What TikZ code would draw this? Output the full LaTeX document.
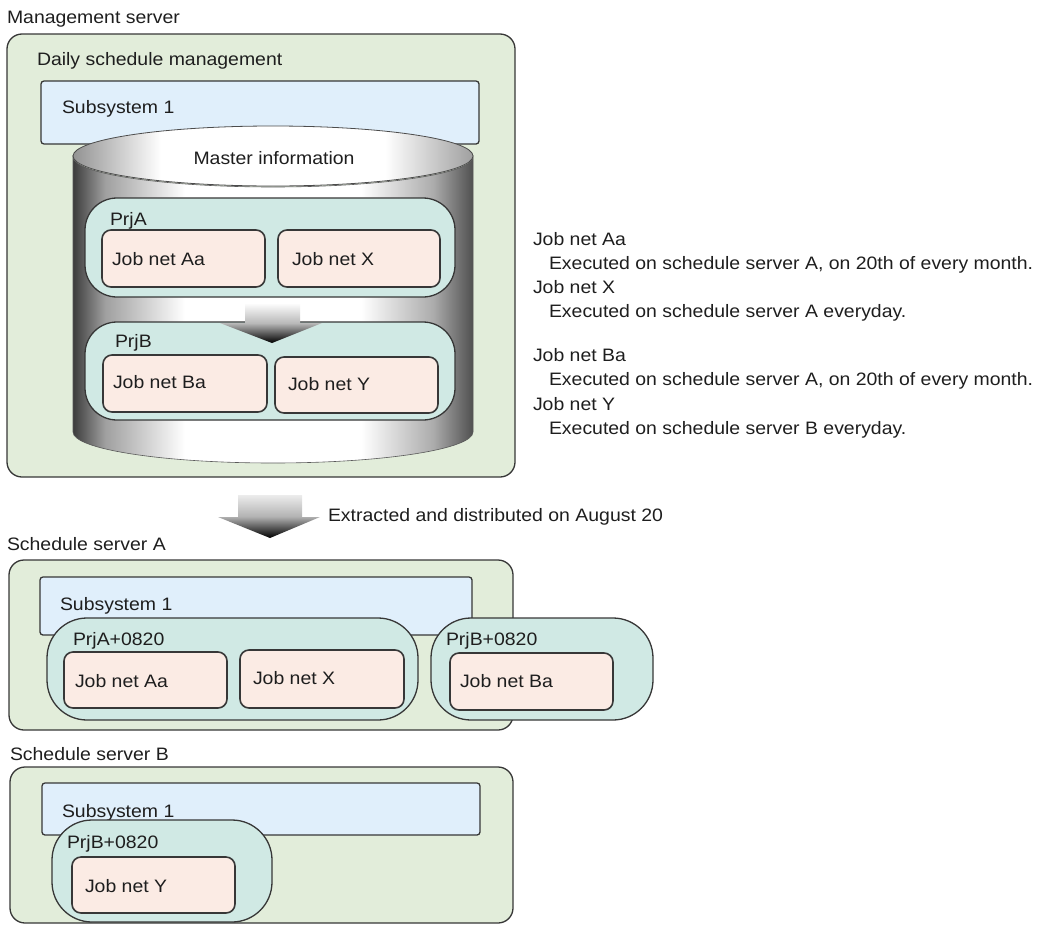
\documentclass[tikz,border=0pt]{standalone}
\usepackage{fontspec}
\setmainfont{Liberation Sans}[FakeStretch=1.08]
\definecolor{srvgreen}{RGB}{226,237,218}
\definecolor{subblue}{RGB}{224,239,251}
\definecolor{prjteal}{RGB}{208,233,228}
\definecolor{jobpink}{RGB}{251,235,228}
\definecolor{edge}{RGB}{55,55,55}
\definecolor{txt}{RGB}{30,30,30}
\definecolor{cdark}{RGB}{60,60,60}
\definecolor{cdarkr}{RGB}{80,80,80}
\pgfdeclarehorizontalshading{cylbody}{100bp}{color(0bp)=(cdark); color(25bp)=(cdark); color(29bp)=(gray!75); color(39bp)=(white); color(61bp)=(white); color(70bp)=(gray!65); color(75bp)=(cdarkr); color(100bp)=(cdarkr)}
\pgfdeclarehorizontalshading{cyltop}{100bp}{color(0bp)=(gray!85); color(25bp)=(gray!85); color(36bp)=(white); color(64bp)=(white); color(75bp)=(gray!75); color(100bp)=(gray!75)}
\begin{document}
\begin{tikzpicture}[x=1pt,y=-1pt,
  font=\fontsize{18}{21}\selectfont, text=txt,
  box/.style={inner sep=0pt, outer sep=0pt, anchor=north west, draw=edge, line width=1.3pt},
  srv/.style={box, fill=srvgreen, rounded corners=15pt},
  sub/.style={box, fill=subblue, rounded corners=3pt},
  prj/.style={box, fill=prjteal, rounded corners=32pt},
  prjr/.style={box, fill=prjteal, rounded corners=40pt},
  job/.style={box, fill=jobpink, rounded corners=9pt, line width=1.6pt},
  lbl/.style={anchor=base west, inner sep=0pt, outer sep=0pt}]
\useasboundingbox (0,0) rectangle (1040,926);

% ---------------- Management server ----------------
\node[lbl] (tMgmt) at (7,23) {Management server};
\node[srv, minimum width=508, minimum height=443] (mgmt) at (7,34) {};
\node[lbl] (tDaily) at (37,65) {Daily schedule management};
\node[sub, minimum width=438, minimum height=63] (sub1) at (41,81) {};
\node[lbl] (tSub1) at (62,113) {Subsystem 1};

% cylinder
\shade[shading=cylbody, draw=gray!70!black, line width=0.6pt]
  (73,157) -- (73,432) arc[start angle=180, end angle=0, x radius=200, y radius=31]
  -- (473,157) arc[start angle=0, end angle=180, x radius=200, y radius=30] -- cycle;
\shade[shading=cyltop, draw=gray!60!black, line width=0.8pt]
  (273,156) ellipse[x radius=200, y radius=30];
\node[anchor=base, inner sep=0pt] (tMaster) at (274,164) {Master information};

\node[prj, minimum width=370, minimum height=99] (prjA) at (85,198) {};
\node[lbl] (tPrjA) at (110,225) {PrjA};
\node[job, minimum width=163, minimum height=57] (jAa) at (102,230) {};
\node[lbl] (tAa) at (112,265) {Job net Aa};
\node[job, minimum width=162, minimum height=57] (jX) at (278,230) {};
\node[lbl] (tX) at (292,265) {Job net X};

\node[prj, minimum width=370, minimum height=98] (prjB) at (85,322) {};
\node[lbl] (tPrjB) at (115,347) {PrjB};
\node[job, minimum width=164, minimum height=57] (jBa) at (103,355) {};
\node[lbl] (tBa) at (113,388) {Job net Ba};
\node[job, minimum width=163, minimum height=56] (jY) at (275,357) {};
\node[lbl] (tY) at (288,390) {Job net Y};

\coordinate (a1) at (272,303);
\shade[top color=white, bottom color=black, middle color=gray!55]
  (245,303) -- (300,303) -- (300,323) -- (322,323) -- (272,343) -- (220,323) -- (245,323) -- cycle;

% ---------------- Notes ----------------
\node[lbl] (n1) at (533,245) {Job net Aa};
\node[lbl] (n2) at (549,269) {Executed on schedule server A, on 20th of every month.};
\node[lbl] (n3) at (533,293) {Job net X};
\node[lbl] (n4) at (549,317) {Executed on schedule server A everyday.};
\node[lbl] (n5) at (533,361) {Job net Ba};
\node[lbl] (n6) at (549,385) {Executed on schedule server A, on 20th of every month.};
\node[lbl] (n7) at (533,410) {Job net Y};
\node[lbl] (n8) at (549,434) {Executed on schedule server B everyday.};

% ---------------- distribution arrow ----------------
\shade[top color=gray!15, bottom color=black, middle color=gray!60]
  (238,495) -- (302,495) -- (302,517) -- (320,517) -- (270,538) -- (218,517) -- (238,517) -- cycle;
\node[lbl] (tExt) at (328,521) {Extracted and distributed on August 20};

% ---------------- Schedule server A ----------------
\node[lbl] (tSrvA) at (7,550) {Schedule server A};
\node[srv, minimum width=504, minimum height=170] (srvA) at (9,560) {};
\node[sub, minimum width=432, minimum height=58] (subA) at (40,577) {};
\node[lbl] (tSubA) at (60,610) {Subsystem 1};
\node[prjr, minimum width=371, minimum height=102] (prjA2) at (47,618) {};
\node[lbl] (tPrjA2) at (73,645) {PrjA+0820};
\node[job, minimum width=163, minimum height=56] (jAa2) at (64,652) {};
\node[lbl] (tAa2) at (75,687) {Job net Aa};
\node[job, minimum width=164, minimum height=58] (jX2) at (240,650) {};
\node[lbl] (tX2) at (253,684) {Job net X};
\node[prjr, minimum width=222, minimum height=102] (prjB2) at (431,618) {};
\node[lbl] (tPrjB2) at (446,645) {PrjB+0820};
\node[job, minimum width=163, minimum height=57] (jBa2) at (450,653) {};
\node[lbl] (tBa2) at (460,687) {Job net Ba};

% ---------------- Schedule server B ----------------
\node[lbl] (tSrvB) at (10,760) {Schedule server B};
\node[srv, minimum width=503, minimum height=156] (srvB) at (10,767) {};
\node[sub, minimum width=438, minimum height=52] (subB) at (42,783) {};
\node[lbl] (tSubB) at (62,817) {Subsystem 1};
\node[prjr, minimum width=220, minimum height=102] (prjB3) at (52,820) {};
\node[lbl] (tPrjB3) at (67,848) {PrjB+0820};
\node[job, minimum width=163, minimum height=56] (jY3) at (72,857) {};
\node[lbl] (tY3) at (85,892) {Job net Y};
\end{tikzpicture}
\end{document}
